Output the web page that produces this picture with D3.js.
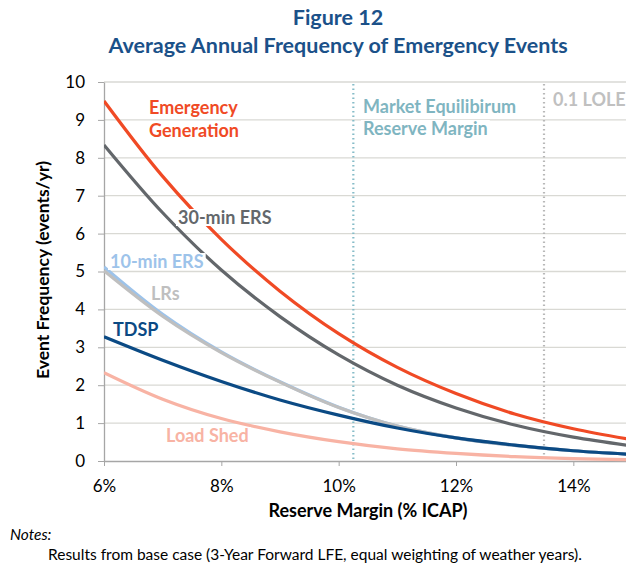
<!DOCTYPE html>
<html>
<head>
<meta charset="utf-8">
<script src="https://cdn.jsdelivr.net/npm/d3@7"></script>
<style>
  body { margin: 0; background: #fff; }
  svg { font-family: Lato, "Open Sans", sans-serif; }
</style>
</head>
<body>
<div id="chart"></div>
<script>
// reserve margin (%) sample points
const margins = [6, 7, 8, 9, 10, 11, 12, 13, 14, 15];

// event frequency (events/yr) per series
const emergencyGen = [9.5, 7.51, 5.85, 4.48, 3.36, 2.47, 1.78, 1.24, 0.85, 0.56];
const ers30 = [8.34, 6.55, 5.04, 3.81, 2.8, 2.0, 1.4, 0.95, 0.63, 0.4];
const ers10 = [5.12, 3.87, 2.88, 2.09, 1.42, 0.92, 0.61, 0.41, 0.27, 0.175];
const lrs = [5.02, 3.82, 2.86, 2.08, 1.41, 0.92, 0.61, 0.41, 0.27, 0.175];
const tdsp = [3.28, 2.66, 2.1, 1.61, 1.21, 0.87, 0.61, 0.42, 0.27, 0.175];
const loadShed = [2.33, 1.63, 1.12, 0.77, 0.51, 0.32, 0.2, 0.115, 0.063, 0.033];

const xTicks = [6, 8, 10, 12, 14];
const yTicks = [0, 1, 2, 3, 4, 5, 6, 7, 8, 9, 10];

const marketEq = 10.25;
const lole = 13.5;

const series = [
  { name: "10-min ERS", values: ers10, color: "#9dc3ea" },
  { name: "LRs", values: lrs, color: "#bfbfbf" },
  { name: "Load Shed", values: loadShed, color: "#f8b3a4" },
  { name: "TDSP", values: tdsp, color: "#0b4a84" },
  { name: "30-min ERS", values: ers30, color: "#63676b" },
  { name: "Emergency Generation", values: emergencyGen, color: "#f04a25" }
];

const W = 626, H = 565;
const svg = d3.select("#chart").append("svg").attr("width", W).attr("height", H);

const x = d3.scaleLinear().domain([6, 15]).range([104, 632]);
const y = d3.scaleLinear().domain([0, 10]).range([461, 82]);

svg.append("defs").append("clipPath").attr("id", "plot")
  .append("rect").attr("x", 104).attr("y", 70).attr("width", W - 104).attr("height", 392);

// title
const titleColor = "#1b5189";
svg.append("text").attr("x", 338).attr("y", 25).attr("text-anchor", "middle")
  .attr("fill", titleColor).attr("font-weight", "bold").attr("font-size", 21.5)
  .text("Figure 12");
svg.append("text").attr("x", 338).attr("y", 53).attr("text-anchor", "middle")
  .attr("fill", titleColor).attr("font-weight", "bold").attr("font-size", 21.5)
  .text("Average Annual Frequency of Emergency Events");

// gridlines
svg.append("g").selectAll("line").data(yTicks.slice(1)).join("line")
  .attr("x1", 104).attr("x2", W)
  .attr("y1", d => y(d)).attr("y2", d => y(d))
  .attr("stroke", "#d9d9d4").attr("stroke-width", 1.3);

// y axis
const yAxis = svg.append("g").attr("transform", "translate(104,0)")
  .call(d3.axisLeft(y).tickValues(yTicks).tickSize(6).tickPadding(13).tickSizeOuter(0));
yAxis.select(".domain").attr("stroke", "#a6a6a6").attr("stroke-width", 1.3);
yAxis.selectAll(".tick line").attr("stroke", "#a6a6a6");
yAxis.selectAll(".tick text").attr("font-size", 17).attr("fill", "#000")
  .attr("font-family", "Lato, sans-serif");

// x axis
const xAxis = svg.append("g").attr("transform", "translate(0,461)")
  .call(d3.axisBottom(x).tickValues(xTicks).tickFormat(d => d + "%").tickSize(5).tickPadding(14).tickSizeOuter(0));
xAxis.select(".domain").attr("stroke", "#a6a6a6").attr("stroke-width", 1.3);
xAxis.selectAll(".tick line").attr("stroke", "#a6a6a6");
xAxis.selectAll(".tick text").attr("font-size", 17).attr("fill", "#000")
  .attr("font-family", "Lato, sans-serif");

// axis titles
svg.append("text").attr("x", 368).attr("y", 517).attr("text-anchor", "middle")
  .attr("font-weight", "bold").attr("font-size", 18).text("Reserve Margin (% ICAP)");
svg.append("text").attr("transform", "translate(49,270) rotate(-90)").attr("text-anchor", "middle")
  .attr("font-weight", "bold").attr("font-size", 17.5).text("Event Frequency (events/yr)");

// reference lines
svg.append("line").attr("x1", x(marketEq)).attr("x2", x(marketEq)).attr("y1", 84).attr("y2", 461)
  .attr("stroke", "#86bcc8").attr("stroke-width", 2.2).attr("stroke-dasharray", "1.5,3");
svg.append("line").attr("x1", x(lole)).attr("x2", x(lole)).attr("y1", 84).attr("y2", 461)
  .attr("stroke", "#b8b8b8").attr("stroke-width", 2.2).attr("stroke-dasharray", "1.5,3");

// curves
const line = d3.line()
  .x((d, i) => x(margins[i]))
  .y(d => y(d))
  .curve(d3.curveCatmullRom.alpha(0.5));

svg.append("g").attr("clip-path", "url(#plot)")
  .selectAll("path").data(series).join("path")
  .attr("fill", "none")
  .attr("stroke", d => d.color)
  .attr("stroke-width", 3.2)
  .attr("d", d => line(d.values));

// series labels (white boxes behind them, like the original)
const labels = [
  { text: "Emergency", x: 149, y: 114, color: "#f04a25" },
  { text: "Generation", x: 149, y: 137, color: "#f04a25" },
  { text: "30-min ERS", x: 178, y: 224, color: "#63676b" },
  { text: "10-min ERS", x: 110, y: 268, color: "#9dc3ea" },
  { text: "LRs", x: 151, y: 300, color: "#bfbfbf" },
  { text: "TDSP", x: 113, y: 336, color: "#0b4a84" },
  { text: "Load Shed", x: 166, y: 442, color: "#f8b3a4" },
  { text: "Market Equilibirum", x: 363, y: 113, color: "#7fb5c1" },
  { text: "Reserve Margin", x: 363, y: 135, color: "#7fb5c1" },
  { text: "0.1 LOLE", x: 553, y: 106, color: "#c0c0c0" }
];
const lab = svg.append("g").selectAll("g").data(labels).join("g");
const labText = lab.append("text")
  .attr("x", d => d.x).attr("y", d => d.y)
  .attr("fill", d => d.color).attr("font-weight", "bold").attr("font-size", 18)
  .text(d => d.text);
labText.each(function(d) {
  const b = this.getBBox();
  d3.select(this.parentNode).insert("rect", "text")
    .attr("x", b.x - 2).attr("y", b.y + 3).attr("width", b.width + 4).attr("height", b.height - 5)
    .attr("fill", "#fff");
});

// notes
svg.append("text").attr("x", 10).attr("y", 540).attr("font-style", "italic").attr("font-size", 15.5)
  .text("Notes:");
svg.append("text").attr("x", 48).attr("y", 560).attr("font-size", 15.5)
  .text("Results from base case (3-Year Forward LFE, equal weighting of weather years).");
</script>
</body>
</html>
